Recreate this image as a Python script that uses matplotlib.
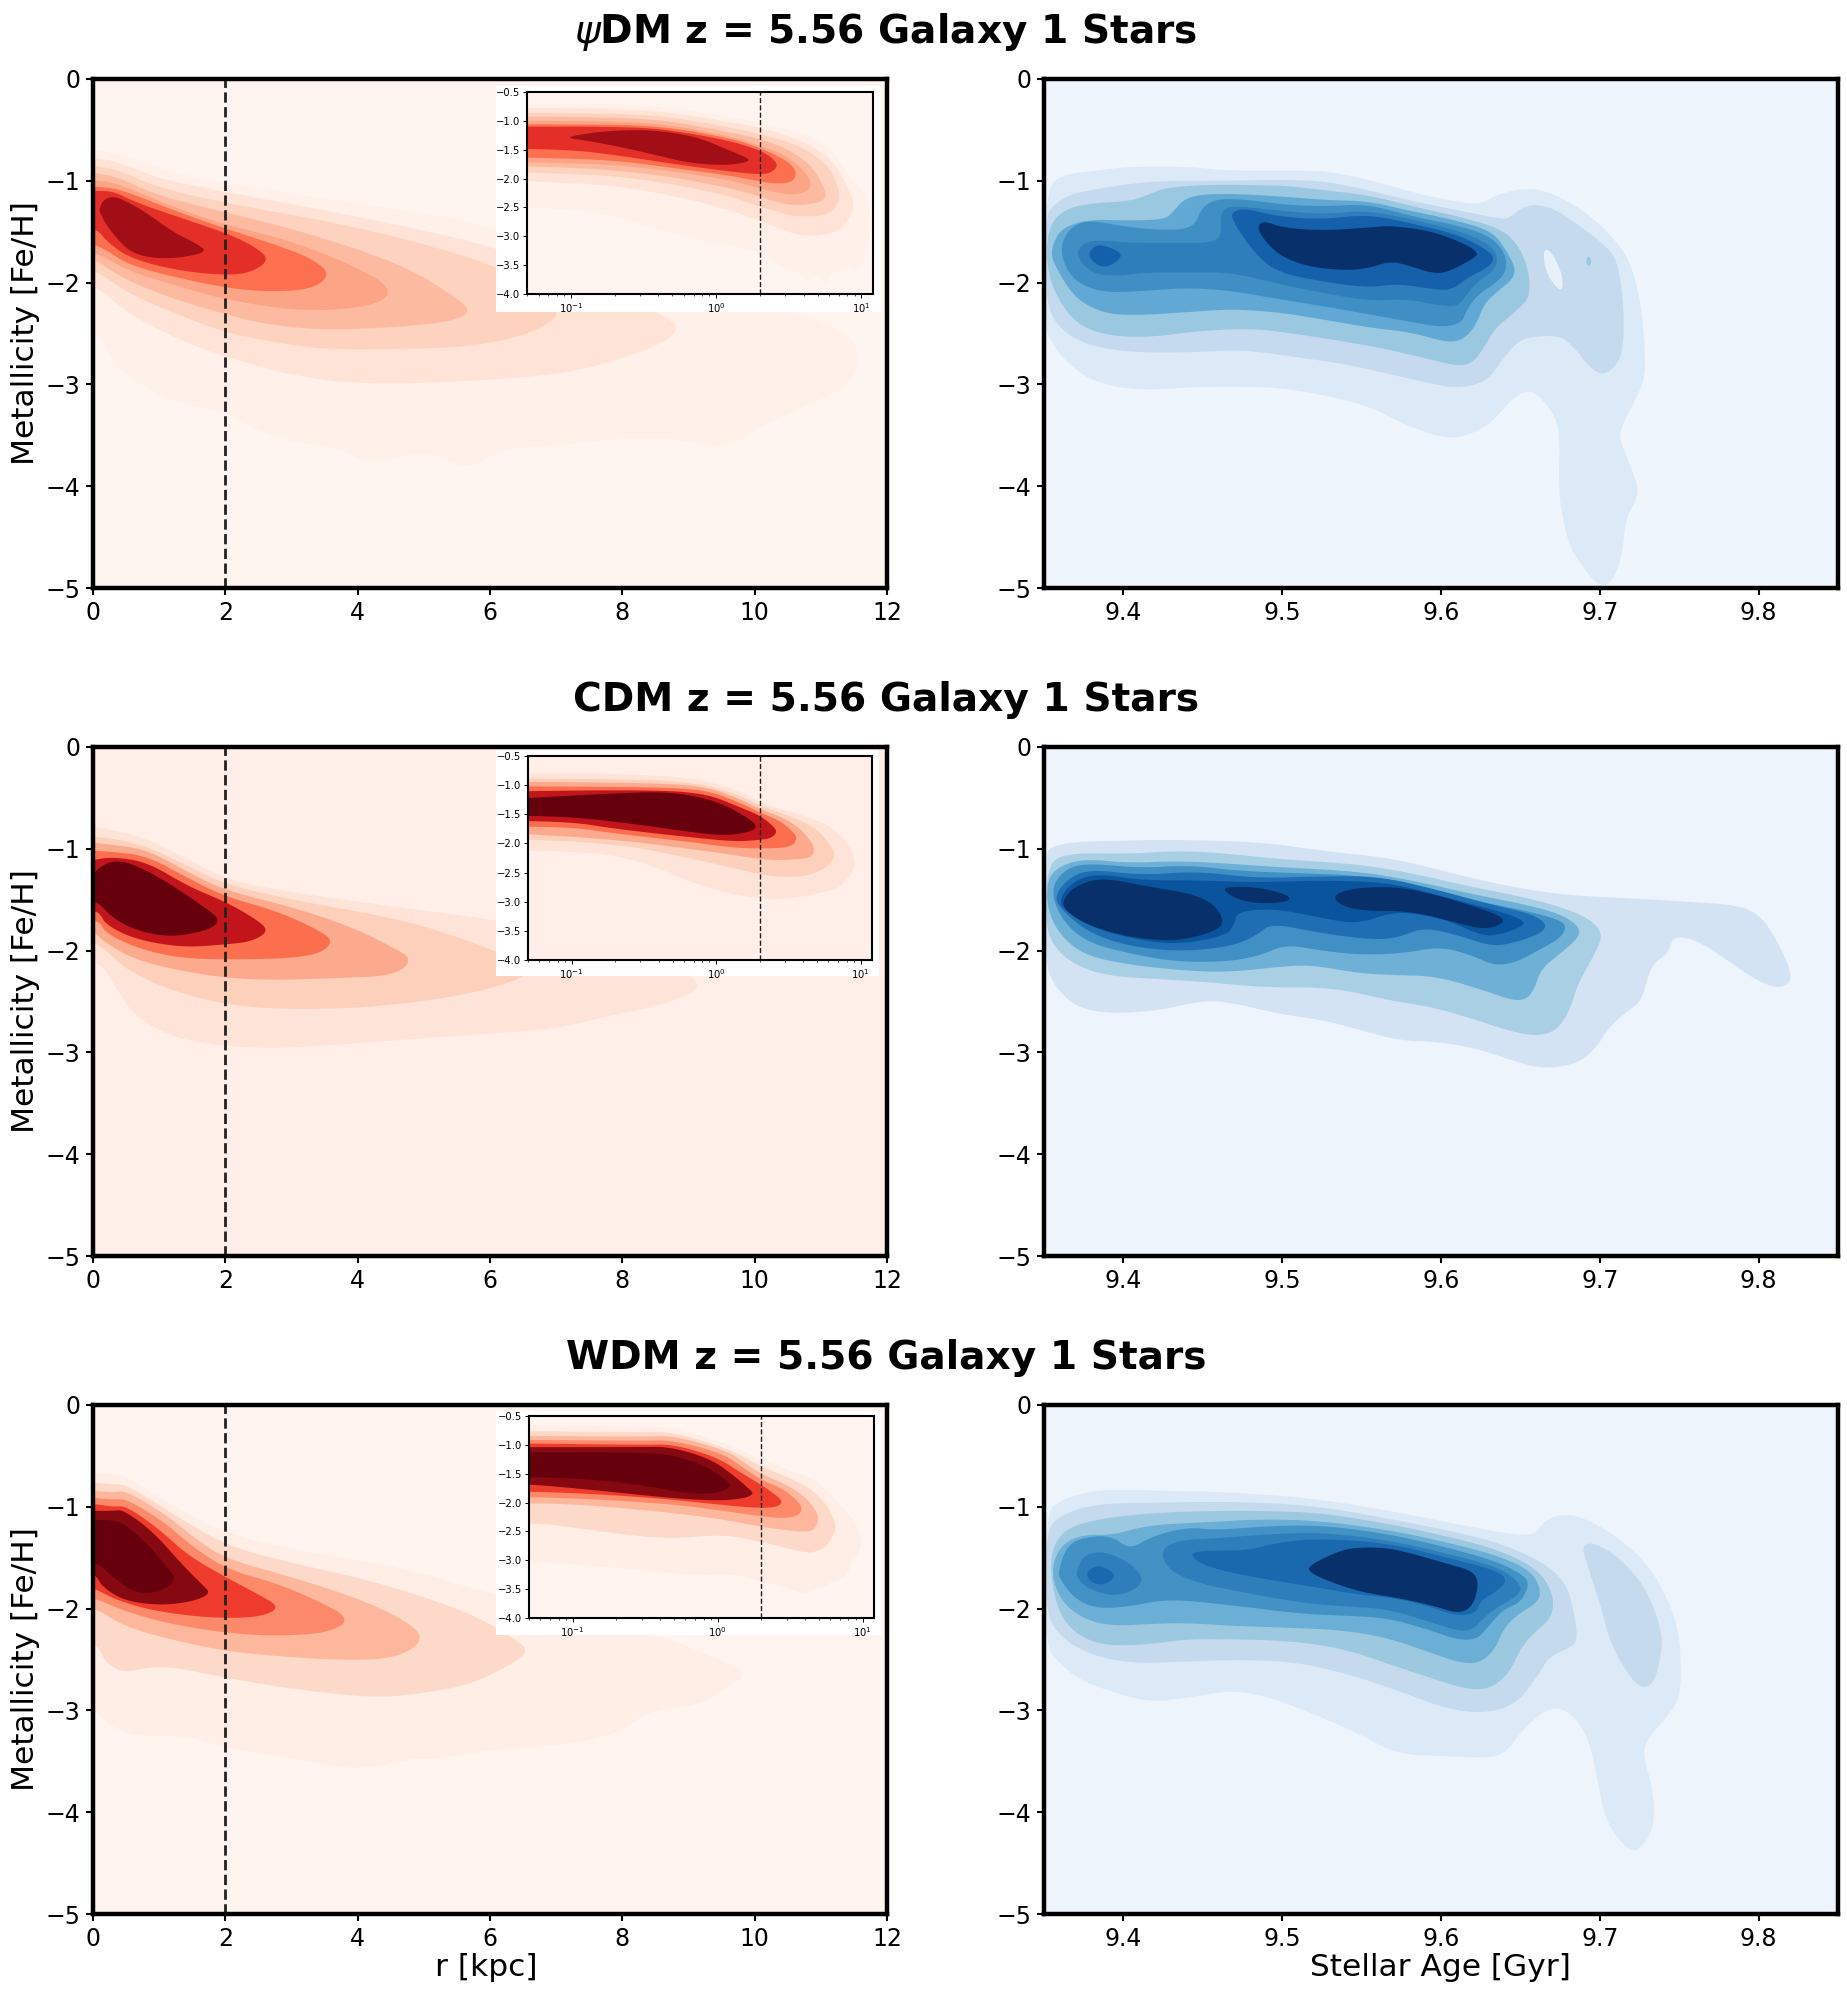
import numpy as np
import matplotlib
matplotlib.use("Agg")
import matplotlib.pyplot as plt
from matplotlib.patches import Rectangle

W, H = 1847, 1991

# contour outlines: (r [kpc], [Fe/H]), r = 0 means the outline runs off the axis
psi_r1 = [(0,-.70),(.1,-.70),(.3,-.72),(1,-.88),(2,-1.03),(4,-1.22),(6,-1.42),(8.4,-2.0),(10.5,-2.25),(11.45,-2.5),(11.6,-2.75),(11.4,-3.03),(10.9,-3.17),(10.1,-3.41),(9.55,-3.64),(8.8,-3.53),(8,-3.53),(7,-3.6),(6.2,-3.63),(5.7,-3.84),(5.2,-3.7),(4.8,-3.67),(4.2,-3.79),(3.65,-3.61),(3,-3.57),(2.4,-3.43),(2,-3.27),(1.17,-3.17),(.4,-2.88),(.2,-2.65),(.1,-2.52),(0,-2.5)]
psi_r2 = [(0,-.78),(.1,-.78),(.4,-.82),(1,-.98),(2,-1.11),(4,-1.35),(6,-1.63),(7.5,-2.0),(8.75,-2.35),(8.85,-2.5),(8.35,-2.67),(7.46,-2.85),(6.6,-2.93),(5,-2.99),(3.9,-2.99),(3,-2.91),(2,-2.73),(1.26,-2.55),(.55,-2.31),(.2,-2.12),(.06,-2.05),(0,-2.03)]
psi_r3 = [(0,-.86),(.1,-.86),(.4,-.9),(1,-1.07),(2,-1.22),(4,-1.45),(6,-1.8),(6.8,-2.1),(7.1,-2.31),(6.6,-2.51),(5.7,-2.63),(4.8,-2.65),(3.5,-2.66),(2.6,-2.57),(2,-2.49),(1.26,-2.31),(.55,-2.11),(.2,-1.95),(.06,-1.9),(0,-1.89)]
psi_r4 = [(0,-.93),(.1,-.93),(.4,-.97),(1,-1.15),(2,-1.31),(3,-1.47),(4,-1.67),(4.8,-1.87),(5.4,-2.11),(5.72,-2.27),(5.5,-2.37),(4.8,-2.43),(3.5,-2.47),(2.6,-2.41),(2,-2.31),(1.26,-2.17),(.55,-1.99),(.2,-1.85),(.06,-1.79),(0,-1.79)]
psi_r5 = [(0,-1.0),(.1,-1.0),(.4,-1.03),(1.26,-1.27),(2,-1.43),(3,-1.59),(4,-1.85),(4.55,-2.07),(4.27,-2.23),(3.2,-2.29),(2,-2.17),(1.26,-2.03),(.55,-1.89),(.2,-1.76),(.06,-1.72),(0,-1.71)]
psi_r6 = [(0,-1.06),(.1,-1.06),(.4,-1.08),(1.26,-1.3),(2,-1.47),(2.77,-1.63),(3.3,-1.76),(3.6,-1.92),(3.3,-2.07),(2.6,-2.09),(2,-2.05),(1.26,-1.95),(.55,-1.83),(.2,-1.68),(.06,-1.64),(0,-1.63)]
psi_r7 = [(0,-1.1),(.3,-1.1),(.64,-1.21),(1.26,-1.35),(2,-1.51),(2.4,-1.63),(2.68,-1.77),(2.4,-1.9),(2,-1.93),(1.26,-1.88),(.55,-1.76),(.2,-1.59),(.1,-1.5),(0,-1.48)]
psi_r8 = [(.09,-1.29),(.15,-1.19),(.3,-1.15),(.5,-1.2),(.8,-1.31),(1.2,-1.5),(1.6,-1.63),(1.72,-1.7),(1.3,-1.76),(.9,-1.76),(.6,-1.71),(.4,-1.6),(.2,-1.43),(.12,-1.33)]

cdm_r1 = [(0,-.79),(.3,-.81),(.8,-.9),(1.44,-1.1),(2,-1.3),(3,-1.43),(4.8,-1.59),(6,-1.69),(7.5,-1.88),(8.8,-2.15),(9.2,-2.33),(8.97,-2.45),(8.35,-2.57),(7.73,-2.65),(7,-2.77),(5.7,-2.83),(4.36,-2.89),(3,-2.96),(2.15,-2.95),(1.26,-2.87),(.64,-2.65),(.4,-2.42),(.2,-2.2),(.1,-2.14),(0,-2.11)]
cdm_r2 = [(0,-.88),(.3,-.9),(.8,-.97),(1.44,-1.17),(2,-1.35),(3,-1.5),(4.8,-1.71),(5.96,-1.97),(6.65,-2.17),(6.5,-2.27),(5.7,-2.43),(4.36,-2.55),(3.2,-2.58),(2.15,-2.55),(1.26,-2.41),(.55,-2.21),(.2,-2.0),(0,-1.91)]
cdm_r3 = [(0,-.94),(.3,-.96),(.82,-1.01),(1.44,-1.23),(2,-1.41),(3,-1.57),(3.92,-1.77),(4.54,-1.97),(4.84,-2.09),(4.54,-2.25),(3.65,-2.27),(2.77,-2.29),(2,-2.27),(1.26,-2.19),(.64,-2.09),(.2,-1.93),(0,-1.81)]
cdm_r4 = [(0,-1.02),(.3,-1.03),(.82,-1.07),(1.44,-1.29),(2,-1.47),(2.77,-1.61),(3.39,-1.79),(3.66,-1.92),(3.3,-2.07),(2,-2.09),(1.26,-2.07),(.64,-1.97),(.2,-1.83),(.1,-1.72),(0,-1.71)]
cdm_r5 = [(0,-1.11),(.3,-1.08),(.82,-1.13),(1.44,-1.37),(2,-1.52),(2.41,-1.67),(2.67,-1.8),(2.41,-1.91),(2,-1.94),(1.35,-1.97),(.64,-1.89),(.2,-1.75),(.1,-1.63),(0,-1.61)]
cdm_r6 = [(0,-1.25),(.1,-1.18),(.3,-1.12),(.5,-1.13),(.8,-1.21),(1.2,-1.36),(1.7,-1.58),(1.93,-1.7),(1.75,-1.8),(1.17,-1.87),(.64,-1.8),(.3,-1.68),(.1,-1.54),(0,-1.52)]

wdm_r1 = [(0,-.66),(.3,-.68),(.5,-.7),(1.26,-1.01),(2,-1.26),(3,-1.42),(4.8,-1.61),(6,-1.86),(8.7,-2.29),(9.6,-2.54),(9.9,-2.64),(9.55,-2.79),(9.15,-2.95),(8.44,-2.99),(7.9,-3.24),(7,-3.35),(6.13,-3.37),(5.25,-3.48),(4.8,-3.47),(4,-3.59),(3.2,-3.49),(2,-3.37),(1.35,-3.24),(.68,-3.26),(.28,-3.16),(.06,-3.03),(0,-3.0)]
wdm_r2 = [(0,-.76),(.3,-.78),(.5,-.78),(1.26,-1.09),(2,-1.38),(3,-1.55),(4.36,-1.75),(5.7,-2.04),(6.36,-2.29),(6.58,-2.41),(6.4,-2.52),(5.7,-2.75),(5,-2.83),(4.27,-2.88),(3,-2.79),(2,-2.68),(1.26,-2.58),(.9,-2.57),(.46,-2.63),(.2,-2.54),(.06,-2.35),(0,-2.38)]
wdm_r3 = [(0,-.84),(.3,-.86),(.5,-.84),(1.13,-1.09),(1.52,-1.3),(2,-1.51),(3,-1.69),(3.92,-1.88),(4.63,-2.08),(5.04,-2.29),(4.63,-2.48),(3.92,-2.51),(3,-2.48),(2,-2.42),(1.08,-2.29),(.46,-2.17),(.1,-2.02),(0,-2.01)]
wdm_r4 = [(0,-.91),(.3,-.93),(.5,-.92),(1.08,-1.15),(1.44,-1.36),(2,-1.61),(2.77,-1.75),(3.39,-1.92),(3.9,-2.1),(3.56,-2.24),(2.77,-2.27),(2,-2.24),(1.08,-2.14),(.46,-2.02),(.1,-1.92),(0,-1.9)]
wdm_r5 = [(0,-.97),(.3,-1.0),(.5,-.99),(1,-1.22),(1.44,-1.48),(2,-1.69),(2.5,-1.86),(2.84,-1.99),(2.5,-2.09),(1.7,-2.09),(.9,-2.02),(.37,-1.92),(.1,-1.83),(0,-1.8)]
wdm_r6 = [(0,-1.04),(.3,-1.04),(.46,-1.03),(.9,-1.24),(1.35,-1.57),(1.66,-1.77),(1.78,-1.85),(1.52,-1.93),(1,-1.97),(.46,-1.92),(.15,-1.79),(.05,-1.68),(0,-1.68)]
wdm_r7 = [(0,-1.13),(.3,-1.13),(.5,-1.18),(.82,-1.36),(1.13,-1.6),(1.27,-1.72),(1,-1.84),(.64,-1.85),(.28,-1.68),(.1,-1.57),(0,-1.55)]

# (age, [Fe/H]) outlines
psi_a1 = [(9.351,-1.09),(9.361,-.94),(9.383,-.90),(9.404,-.86),(9.440,-.86),(9.465,-.90),(9.497,-.90),(9.525,-.90),(9.547,-.96),(9.568,-1.05),(9.589,-1.14),(9.611,-1.21),(9.625,-1.23),(9.636,-1.13),(9.654,-1.07),(9.668,-1.11),(9.686,-1.25),(9.704,-1.48),(9.718,-1.75),(9.725,-2.12),(9.728,-2.53),(9.729,-2.93),(9.721,-3.19),(9.714,-3.41),(9.712,-3.52),(9.718,-3.75),(9.725,-4.04),(9.721,-4.19),(9.716,-4.34),(9.714,-4.70),(9.707,-4.96),(9.700,-4.98),(9.693,-4.87),(9.682,-4.63),(9.678,-4.41),(9.674,-4.08),(9.675,-3.45),(9.670,-3.27),(9.661,-3.10),(9.654,-3.06),(9.645,-3.14),(9.636,-3.30),(9.627,-3.43),(9.611,-3.53),(9.597,-3.51),(9.575,-3.38),(9.554,-3.21),(9.525,-3.10),(9.497,-3.03),(9.465,-3.02),(9.440,-3.03),(9.411,-3.06),(9.383,-2.99),(9.365,-2.80),(9.352,-2.53),(9.350,-2.3)]
psi_a2 = [(9.351,-1.35),(9.356,-1.24),(9.365,-1.14),(9.383,-1.08),(9.404,-1.03),(9.426,-1.00),(9.458,-1.00),(9.497,-.99),(9.525,-1.00),(9.554,-1.09),(9.582,-1.20),(9.611,-1.29),(9.636,-1.37),(9.643,-1.37),(9.650,-1.27),(9.659,-1.23),(9.671,-1.27),(9.689,-1.46),(9.707,-1.68),(9.712,-1.86),(9.715,-2.23),(9.715,-2.60),(9.712,-2.79),(9.702,-2.92),(9.693,-2.82),(9.684,-2.64),(9.675,-2.52),(9.657,-2.53),(9.648,-2.58),(9.639,-2.75),(9.629,-2.97),(9.611,-3.04),(9.593,-2.99),(9.568,-2.90),(9.540,-2.80),(9.508,-2.73),(9.475,-2.66),(9.450,-2.68),(9.418,-2.69),(9.390,-2.66),(9.369,-2.56),(9.356,-2.38),(9.351,-2.12)]
psi_a2_gap = [(9.664,-1.68),(9.669,-1.68),(9.676,-1.90),(9.677,-2.05),(9.674,-2.08),(9.666,-1.90)]
psi_a2_spot = [(9.693,-1.73),(9.695,-1.79),(9.693,-1.85),(9.691,-1.79)]
psi_a3 = [(9.352,-1.49),(9.361,-1.29),(9.379,-1.22),(9.404,-1.20),(9.415,-1.14),(9.426,-1.07),(9.450,-1.04),(9.475,-1.04),(9.504,-1.05),(9.525,-1.09),(9.554,-1.14),(9.582,-1.25),(9.611,-1.35),(9.636,-1.46),(9.648,-1.61),(9.655,-1.86),(9.656,-2.08),(9.654,-2.18),(9.645,-2.31),(9.634,-2.45),(9.627,-2.64),(9.620,-2.79),(9.611,-2.82),(9.597,-2.77),(9.568,-2.66),(9.540,-2.58),(9.511,-2.51),(9.483,-2.45),(9.450,-2.47),(9.415,-2.54),(9.390,-2.52),(9.372,-2.42),(9.360,-2.20),(9.352,-1.90)]
psi_a4 = [(9.354,-1.72),(9.358,-1.53),(9.365,-1.44),(9.379,-1.38),(9.404,-1.39),(9.426,-1.38),(9.431,-1.31),(9.438,-1.18),(9.450,-1.13),(9.475,-1.13),(9.504,-1.16),(9.529,-1.19),(9.554,-1.20),(9.579,-1.29),(9.607,-1.38),(9.632,-1.49),(9.641,-1.68),(9.647,-1.86),(9.645,-1.97),(9.636,-2.08),(9.627,-2.21),(9.622,-2.42),(9.614,-2.56),(9.604,-2.59),(9.582,-2.49),(9.554,-2.44),(9.525,-2.36),(9.497,-2.29),(9.468,-2.26),(9.440,-2.29),(9.411,-2.32),(9.390,-2.31),(9.374,-2.20),(9.365,-2.05),(9.358,-1.86)]
psi_a5 = [(9.360,-1.68),(9.365,-1.48),(9.377,-1.38),(9.404,-1.46),(9.433,-1.49),(9.445,-1.44),(9.449,-1.27),(9.458,-1.18),(9.475,-1.18),(9.504,-1.24),(9.529,-1.25),(9.554,-1.23),(9.582,-1.35),(9.611,-1.44),(9.632,-1.55),(9.641,-1.73),(9.641,-1.90),(9.634,-2.01),(9.623,-2.12),(9.616,-2.27),(9.613,-2.40),(9.600,-2.44),(9.579,-2.38),(9.554,-2.31),(9.525,-2.23),(9.497,-2.16),(9.468,-2.08),(9.440,-2.05),(9.415,-2.08),(9.390,-2.10),(9.374,-2.03),(9.365,-1.90)]
psi_a6 = [(9.370,-1.73),(9.374,-1.62),(9.383,-1.58),(9.404,-1.61),(9.433,-1.61),(9.456,-1.61),(9.462,-1.53),(9.461,-1.31),(9.468,-1.24),(9.497,-1.29),(9.525,-1.33),(9.554,-1.29),(9.582,-1.38),(9.611,-1.49),(9.629,-1.61),(9.636,-1.73),(9.634,-1.88),(9.623,-1.99),(9.616,-2.12),(9.611,-2.23),(9.600,-2.23),(9.579,-2.16),(9.554,-2.18),(9.525,-2.10),(9.497,-2.01),(9.468,-1.90),(9.440,-1.90),(9.415,-1.90),(9.393,-1.94),(9.379,-1.90)]
psi_a7 = [(9.468,-1.38),(9.469,-1.30),(9.477,-1.27),(9.497,-1.35),(9.525,-1.38),(9.554,-1.33),(9.582,-1.42),(9.611,-1.53),(9.627,-1.66),(9.634,-1.75),(9.630,-1.85),(9.618,-1.94),(9.607,-2.07),(9.597,-2.07),(9.573,-2.01),(9.554,-2.05),(9.525,-1.99),(9.497,-1.90),(9.483,-1.72)]
psi_a7_left = [(9.377,-1.73),(9.383,-1.62),(9.393,-1.66),(9.400,-1.73),(9.393,-1.83),(9.385,-1.85)]
psi_a8 = [(9.484,-1.46),(9.488,-1.39),(9.500,-1.46),(9.525,-1.49),(9.554,-1.46),(9.568,-1.44),(9.593,-1.49),(9.614,-1.61),(9.623,-1.70),(9.622,-1.75),(9.604,-1.90),(9.595,-1.91),(9.579,-1.83),(9.568,-1.79),(9.554,-1.86),(9.540,-1.88),(9.518,-1.85),(9.500,-1.75),(9.490,-1.61)]

cdm_a1 = [(9.351,-1.07),(9.354,-.98),(9.369,-.93),(9.404,-.92),(9.422,-.91),(9.458,-.92),(9.490,-.94),(9.525,-1.02),(9.568,-1.09),(9.597,-1.20),(9.625,-1.31),(9.654,-1.40),(9.682,-1.46),(9.725,-1.49),(9.753,-1.52),(9.786,-1.55),(9.800,-1.64),(9.810,-1.85),(9.822,-2.25),(9.816,-2.37),(9.803,-2.33),(9.786,-2.16),(9.768,-1.96),(9.755,-1.87),(9.746,-1.87),(9.743,-2.03),(9.732,-2.14),(9.727,-2.48),(9.718,-2.59),(9.707,-2.73),(9.696,-2.99),(9.684,-3.12),(9.664,-3.16),(9.647,-3.09),(9.622,-2.96),(9.600,-2.90),(9.572,-2.88),(9.547,-2.77),(9.525,-2.68),(9.497,-2.62),(9.468,-2.51),(9.450,-2.49),(9.422,-2.59),(9.390,-2.62),(9.369,-2.55),(9.356,-2.33),(9.351,-2.14)]
cdm_a2 = [(9.352,-1.15),(9.365,-1.04),(9.404,-1.05),(9.433,-1.02),(9.461,-1.04),(9.497,-1.10),(9.547,-1.15),(9.582,-1.24),(9.618,-1.37),(9.654,-1.48),(9.675,-1.57),(9.693,-1.68),(9.702,-1.83),(9.698,-2.00),(9.686,-2.33),(9.682,-2.55),(9.675,-2.75),(9.664,-2.84),(9.647,-2.81),(9.618,-2.66),(9.593,-2.55),(9.568,-2.49),(9.543,-2.40),(9.522,-2.36),(9.486,-2.36),(9.454,-2.31),(9.422,-2.28),(9.390,-2.25),(9.369,-2.14),(9.356,-1.96),(9.351,-1.74)]
cdm_a3 = [(9.352,-1.29),(9.361,-1.16),(9.376,-1.10),(9.404,-1.14),(9.433,-1.12),(9.461,-1.14),(9.497,-1.18),(9.547,-1.22),(9.582,-1.31),(9.618,-1.44),(9.654,-1.55),(9.675,-1.64),(9.687,-1.76),(9.687,-1.87),(9.675,-2.03),(9.663,-2.18),(9.659,-2.37),(9.654,-2.48),(9.645,-2.49),(9.629,-2.40),(9.597,-2.25),(9.568,-2.24),(9.547,-2.22),(9.518,-2.14),(9.497,-2.16),(9.468,-2.21),(9.440,-2.20),(9.404,-2.14),(9.376,-2.05),(9.360,-1.85),(9.352,-1.59)]
cdm_a4 = [(9.354,-1.40),(9.363,-1.20),(9.377,-1.14),(9.411,-1.19),(9.440,-1.16),(9.475,-1.22),(9.511,-1.24),(9.547,-1.26),(9.582,-1.35),(9.618,-1.50),(9.654,-1.61),(9.675,-1.70),(9.679,-1.77),(9.675,-1.88),(9.661,-2.00),(9.648,-2.11),(9.634,-2.15),(9.620,-2.05),(9.600,-1.96),(9.575,-2.03),(9.547,-2.04),(9.525,-2.00),(9.502,-1.94),(9.486,-2.05),(9.465,-2.11),(9.433,-2.11),(9.404,-2.03),(9.377,-1.92),(9.361,-1.70)]
cdm_a5 = [(9.356,-1.48),(9.365,-1.29),(9.379,-1.20),(9.411,-1.26),(9.447,-1.22),(9.483,-1.29),(9.525,-1.27),(9.561,-1.27),(9.597,-1.40),(9.632,-1.55),(9.657,-1.64),(9.667,-1.74),(9.663,-1.83),(9.647,-1.92),(9.632,-1.96),(9.611,-1.85),(9.589,-1.77),(9.572,-1.88),(9.554,-1.89),(9.525,-1.83),(9.493,-1.73),(9.484,-1.85),(9.468,-1.96),(9.436,-2.01),(9.404,-1.96),(9.379,-1.83),(9.363,-1.63)]
cdm_a6 = [(9.359,-1.52),(9.367,-1.33),(9.383,-1.24),(9.411,-1.31),(9.447,-1.31),(9.483,-1.33),(9.525,-1.31),(9.568,-1.33),(9.604,-1.48),(9.636,-1.61),(9.652,-1.70),(9.652,-1.76),(9.636,-1.85),(9.625,-1.85),(9.604,-1.70),(9.582,-1.63),(9.568,-1.63),(9.547,-1.74),(9.525,-1.68),(9.497,-1.59),(9.472,-1.61),(9.470,-1.74),(9.465,-1.85),(9.436,-1.94),(9.411,-1.90),(9.383,-1.79),(9.365,-1.63)]
cdm_a7_old = [(9.361,-1.52),(9.369,-1.37),(9.386,-1.28),(9.415,-1.37),(9.443,-1.44),(9.458,-1.55),(9.464,-1.74),(9.454,-1.83),(9.433,-1.91),(9.404,-1.87),(9.379,-1.76),(9.365,-1.63)]
cdm_a7_mid = [(9.462,-1.40),(9.468,-1.37),(9.486,-1.38),(9.505,-1.46),(9.504,-1.52),(9.486,-1.54),(9.472,-1.50)]
cdm_a7_young = [(9.532,-1.46),(9.543,-1.39),(9.568,-1.37),(9.589,-1.42),(9.618,-1.55),(9.641,-1.68),(9.636,-1.76),(9.625,-1.79),(9.604,-1.70),(9.579,-1.61),(9.550,-1.61),(9.536,-1.55)]

wdm_a1 = [(9.351,-1.06),(9.361,-.93),(9.383,-.83),(9.418,-.84),(9.454,-.85),(9.490,-.88),(9.525,-.93),(9.568,-1.04),(9.604,-1.15),(9.636,-1.25),(9.659,-1.29),(9.664,-1.15),(9.675,-1.07),(9.689,-1.10),(9.711,-1.29),(9.732,-1.59),(9.746,-2.01),(9.751,-2.36),(9.751,-2.86),(9.743,-3.05),(9.730,-3.28),(9.727,-3.43),(9.734,-3.81),(9.734,-4.16),(9.727,-4.33),(9.721,-4.39),(9.714,-4.31),(9.704,-4.08),(9.700,-3.81),(9.695,-3.39),(9.689,-3.16),(9.680,-3.01),(9.671,-2.97),(9.661,-3.05),(9.650,-3.22),(9.641,-3.41),(9.630,-3.47),(9.604,-3.45),(9.572,-3.43),(9.550,-3.24),(9.525,-3.07),(9.493,-2.87),(9.468,-2.80),(9.447,-2.86),(9.418,-2.92),(9.397,-2.84),(9.372,-2.70),(9.358,-2.51),(9.351,-2.36)]
wdm_a2 = [(9.351,-1.25),(9.360,-1.08),(9.383,-.97),(9.418,-.96),(9.454,-.95),(9.490,-.96),(9.525,-1.00),(9.568,-1.12),(9.604,-1.23),(9.636,-1.35),(9.664,-1.54),(9.679,-1.75),(9.684,-2.05),(9.686,-2.30),(9.682,-2.38),(9.668,-2.47),(9.661,-2.66),(9.648,-2.93),(9.629,-3.03),(9.604,-2.99),(9.572,-2.80),(9.543,-2.65),(9.511,-2.53),(9.475,-2.50),(9.440,-2.52),(9.404,-2.54),(9.376,-2.44),(9.358,-2.24),(9.351,-2.01)]
wdm_a2_tail = [(9.689,-1.38),(9.696,-1.35),(9.711,-1.48),(9.729,-1.79),(9.739,-2.21),(9.739,-2.44),(9.734,-2.74),(9.727,-2.78),(9.720,-2.70),(9.707,-2.36),(9.700,-1.94),(9.691,-1.52)]
wdm_a3 = [(9.353,-1.52),(9.361,-1.23),(9.383,-1.12),(9.418,-1.06),(9.454,-1.04),(9.490,-1.04),(9.525,-1.06),(9.568,-1.17),(9.604,-1.29),(9.636,-1.42),(9.661,-1.61),(9.671,-1.86),(9.670,-2.09),(9.657,-2.26),(9.650,-2.40),(9.643,-2.63),(9.632,-2.78),(9.618,-2.80),(9.597,-2.70),(9.568,-2.55),(9.540,-2.40),(9.508,-2.32),(9.468,-2.30),(9.440,-2.30),(9.411,-2.36),(9.386,-2.36),(9.369,-2.24),(9.358,-2.01)]
wdm_a4 = [(9.354,-1.63),(9.361,-1.36),(9.376,-1.27),(9.393,-1.28),(9.415,-1.18),(9.454,-1.15),(9.490,-1.12),(9.525,-1.14),(9.568,-1.23),(9.604,-1.35),(9.636,-1.48),(9.657,-1.63),(9.663,-1.82),(9.661,-1.94),(9.647,-2.07),(9.639,-2.21),(9.634,-2.40),(9.625,-2.53),(9.613,-2.54),(9.593,-2.43),(9.565,-2.28),(9.536,-2.21),(9.508,-2.19),(9.468,-2.17),(9.440,-2.14),(9.418,-2.15),(9.393,-2.17),(9.376,-2.11),(9.361,-1.94)]
wdm_a5 = [(9.359,-1.63),(9.365,-1.36),(9.379,-1.29),(9.393,-1.29),(9.404,-1.42),(9.418,-1.29),(9.440,-1.20),(9.458,-1.23),(9.490,-1.19),(9.525,-1.18),(9.568,-1.27),(9.604,-1.40),(9.636,-1.54),(9.654,-1.69),(9.655,-1.79),(9.650,-1.94),(9.639,-2.01),(9.630,-2.17),(9.623,-2.30),(9.611,-2.31),(9.589,-2.19),(9.565,-2.09),(9.540,-2.07),(9.511,-2.05),(9.475,-1.98),(9.440,-1.92),(9.422,-1.92),(9.404,-1.98),(9.383,-2.00),(9.369,-1.90),(9.360,-1.71)]
wdm_a6_left = [(9.370,-1.63),(9.376,-1.46),(9.389,-1.44),(9.405,-1.56),(9.413,-1.71),(9.407,-1.82),(9.394,-1.88),(9.380,-1.82),(9.372,-1.73)]
wdm_a6 = [(9.423,-1.44),(9.433,-1.33),(9.458,-1.31),(9.490,-1.27),(9.525,-1.25),(9.568,-1.33),(9.604,-1.46),(9.636,-1.59),(9.650,-1.75),(9.650,-1.86),(9.636,-1.98),(9.627,-2.09),(9.620,-2.21),(9.611,-2.22),(9.593,-2.13),(9.565,-2.00),(9.540,-1.98),(9.511,-1.94),(9.475,-1.84),(9.447,-1.75),(9.429,-1.63)]
wdm_a7_left = [(9.376,-1.65),(9.383,-1.57),(9.392,-1.62),(9.395,-1.69),(9.388,-1.77),(9.380,-1.75)]
wdm_a7 = [(9.442,-1.48),(9.447,-1.43),(9.479,-1.43),(9.497,-1.35),(9.525,-1.31),(9.568,-1.36),(9.604,-1.50),(9.636,-1.63),(9.642,-1.73),(9.634,-1.84),(9.625,-1.92),(9.622,-2.05),(9.609,-2.07),(9.593,-1.98),(9.572,-1.90),(9.547,-1.86),(9.525,-1.80),(9.497,-1.73),(9.468,-1.65),(9.450,-1.57)]
wdm_a8 = [(9.516,-1.59),(9.529,-1.48),(9.543,-1.40),(9.565,-1.40),(9.582,-1.46),(9.604,-1.56),(9.620,-1.63),(9.624,-1.75),(9.620,-1.98),(9.611,-2.05),(9.597,-1.98),(9.575,-1.90),(9.550,-1.84),(9.529,-1.73),(9.518,-1.65)]

rows = ["ψDM", "CDM", "WDM"]
r_xticks = [0, 2, 4, 6, 8, 10, 12]
age_xticks = [9.4, 9.5, 9.6, 9.7, 9.8]
feh_yticks = [0, -1, -2, -3, -4, -5]
inset_yticks = [-0.5, -1.0, -1.5, -2.0, -2.5, -3.0, -3.5, -4.0]

R_LEVELS = [[psi_r1, psi_r2, psi_r3, psi_r4, psi_r5, psi_r6, psi_r7, psi_r8],
            [cdm_r1, cdm_r2, cdm_r3, cdm_r4, cdm_r5, cdm_r6],
            [wdm_r1, wdm_r2, wdm_r3, wdm_r4, wdm_r5, wdm_r6, wdm_r7]]
R_COLORS = [['#fff0e9','#fee3d6','#fdd2bf','#fcbba1','#fca486','#fc7050','#e32f27','#a10e15'],
            ['#fee4d8','#fdd0bc','#fcaa8d','#fb6e4e','#c1151b','#67000d'],
            ['#ffeee6','#fdd9c9','#fdb79c','#fc8a6a','#ef3b2c','#860811','#67000d']]
R_BG = ['#fff5f0', '#ffefe8', '#fff4ef']

A_LEVELS = [[psi_a1, psi_a2, psi_a2_gap, psi_a2_spot, psi_a3, psi_a4, psi_a5, psi_a6, psi_a7, psi_a7_left, psi_a8],
            [cdm_a1, cdm_a2, cdm_a3, cdm_a4, cdm_a5, cdm_a6, cdm_a7_old, cdm_a7_mid, cdm_a7_young],
            [wdm_a1, wdm_a2, wdm_a2_tail, wdm_a3, wdm_a4, wdm_a5, wdm_a6_left, wdm_a6, wdm_a7_left, wdm_a7, wdm_a8]]
A_COLORS = [['#dce9f6','#c5daee','#e8f1fa','#9ac8e0','#9ac8e0','#62a8d4','#3f8fc5','#2e7ebc','#1460ab','#1460ab','#08306b'],
            ['#d3e3f3','#a9cfe5','#6fb0d7','#4090c5','#1f6eb3','#0a549e','#08306b','#08306b','#08306b'],
            ['#dce9f6','#c6daee','#c6daee','#9dc9e0','#6baed6','#4292c6','#2e7ebc','#2e7ebc','#1a68ae','#1a68ae','#08306b']]
A_BG = ['#eef5fc', '#edf4fc', '#edf4fc']

# pixel boxes (left, top, right, bottom)
MAIN_L = (93, 887)
MAIN_R = (1044, 1838)
ROW_Y = [(79, 588), (747, 1256), (1405, 1914)]
INSET = [(527, 92, 873, 294), (528, 756, 872, 960), (529, 1416, 874, 1618)]
INSET_BG = [(496, 86, 881, 312), (496, 750, 879, 976), (496, 1411, 881, 1635)]
TITLE_Y = [32, 700, 1358]


def box(l, t, r, b):
    return [l/W, 1-b/H, (r-l)/W, (b-t)/H]


def smooth(x, y, closed, n=3):
    # corner cutting, stays inside the read outline
    x, y = np.asarray(x, float), np.asarray(y, float)
    for _ in range(n):
        if closed:
            x1, y1 = np.roll(x, -1), np.roll(y, -1)
            x, y = (np.column_stack([.75*x+.25*x1, .25*x+.75*x1]).ravel(),
                    np.column_stack([.75*y+.25*y1, .25*y+.75*y1]).ravel())
        else:
            xm = np.column_stack([.75*x[:-1]+.25*x[1:], .25*x[:-1]+.75*x[1:]]).ravel()
            ym = np.column_stack([.75*y[:-1]+.25*y[1:], .25*y[:-1]+.75*y[1:]]).ravel()
            x, y = np.r_[x[0], xm, x[-1]], np.r_[y[0], ym, y[-1]]
    return x, y


def fill_level(ax, pts, color, logx=False):
    x, y = np.array(pts).T
    closed = x[0] != 0
    if logx:
        lx, sy = smooth(np.log10(np.maximum(x, .03)), y, closed)
        sx = 10**lx
    else:
        sx, sy = smooth(x, y, closed)
    ax.fill(sx, sy, color=color, lw=0)


def style(ax, lw=3.2, size=17, tl=5, tw=1.5):
    for s in ax.spines.values():
        s.set_linewidth(lw)
    ax.tick_params(labelsize=size, length=tl, width=tw, pad=4)


fig = plt.figure(figsize=(W/100, H/100), dpi=100)
plt.rcParams["font.family"] = "DejaVu Sans"

for i, name in enumerate(rows):
    t, b = ROW_Y[i]
    ax = fig.add_axes(box(MAIN_L[0], t, MAIN_L[1], b), zorder=1)
    ax.set_facecolor(R_BG[i])
    for pts, c in zip(R_LEVELS[i], R_COLORS[i]):
        fill_level(ax, pts, c)
    ax.axvline(2, color="#222222", ls="--", lw=2)
    ax.set_xlim(0, 12)
    ax.set_ylim(-5, 0)
    ax.set_xticks(r_xticks)
    ax.set_yticks(feh_yticks)
    style(ax)
    fig.text(26/W, 1-(t+b)/2/H, "Metallicity [Fe/H]", fontsize=22.5, rotation=90,
             ha="center", va="center")

    # white patch behind the inset and its tick labels
    l2, t2, r2, b2 = INSET_BG[i]
    fig.add_artist(Rectangle((l2/W, 1-b2/H), (r2-l2)/W, (b2-t2)/H, transform=fig.transFigure,
                             facecolor="white", edgecolor="none", zorder=2))
    ins = fig.add_axes(box(*INSET[i]), zorder=3)
    ins.set_facecolor(R_BG[i])
    ins.set_xscale("log")
    for pts, c in zip(R_LEVELS[i], R_COLORS[i]):
        fill_level(ins, pts, c, logx=True)
    ins.axvline(2, color="#222222", ls="--", lw=1)
    ins.set_xlim(0.05, 12)
    ins.set_ylim(-4, -0.5)
    ins.set_yticks(inset_yticks)
    style(ins, lw=1.5, size=7.2, tl=3, tw=.7)
    ins.tick_params(which="minor", length=1.5, width=.5)
    ins.tick_params(pad=2)

    ax2 = fig.add_axes(box(MAIN_R[0], t, MAIN_R[1], b), zorder=1)
    ax2.set_facecolor(A_BG[i])
    for pts, c in zip(A_LEVELS[i], A_COLORS[i]):
        fill_level(ax2, pts, c)
    ax2.set_xlim(9.35, 9.85)
    ax2.set_ylim(-5, 0)
    ax2.set_xticks(age_xticks)
    ax2.set_yticks(feh_yticks)
    style(ax2)

    title = r"$\psi$DM" if i == 0 else name
    fig.text(886/W, 1-TITLE_Y[i]/H, title + " z = 5.56 Galaxy 1 Stars", fontsize=28.2,
             fontweight="bold", ha="center", va="center")

fig.text(486/W, 1-1968/H, "r [kpc]", fontsize=22.5, ha="center", va="center")
fig.text(1440/W, 1-1968/H, "Stellar Age [Gyr]", fontsize=22.5, ha="center", va="center")

fig.savefig("out.png", dpi=100)
